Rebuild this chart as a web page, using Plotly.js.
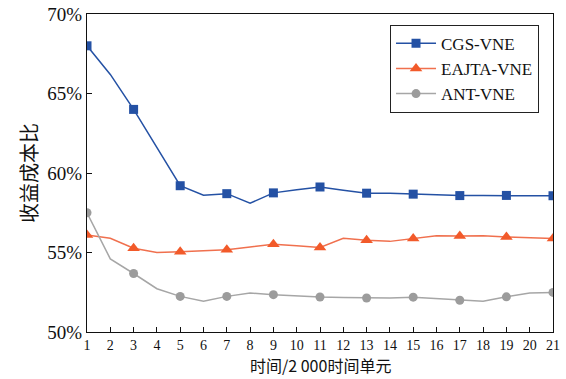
<!DOCTYPE html>
<html>
<head>
<meta charset="utf-8">
<script src="https://cdn.plot.ly/plotly-3.0.1.min.js"></script>
<style>html,body{margin:0;padding:0;background:#fff;}#chart{width:566px;height:379px;}</style>
</head>
<body>
<div id="chart"></div>
<script>
const timeSteps = [1,2,3,4,5,6,7,8,9,10,11,12,13,14,15,16,17,18,19,20,21];
const seriesNames = ['CGS-VNE', 'EAJTA-VNE', 'ANT-VNE'];
const cgsVne = [68.0, 66.2, 64.0, 61.6, 59.2, 58.6, 58.7, 58.1, 58.75, 58.95, 59.12, 58.92, 58.73, 58.73, 58.67, 58.63, 58.58, 58.58, 58.59, 58.58, 58.57];
const eajtaVne = [56.1, 55.9, 55.27, 55.0, 55.05, 55.1, 55.18, 55.35, 55.52, 55.42, 55.31, 55.89, 55.77, 55.7, 55.88, 56.05, 56.03, 56.05, 55.98, 55.92, 55.88];
const antVne = [57.5, 54.6, 53.68, 52.72, 52.24, 51.93, 52.24, 52.45, 52.35, 52.27, 52.2, 52.17, 52.14, 52.14, 52.19, 52.11, 52.0, 51.93, 52.21, 52.45, 52.49];
const yTickVals = [50, 55, 60, 65, 70];
const xTitle = '时间/2 000时间单元';
const yTitle = '收益成本比';

const styles = [
  {line: '#2451a4', marker: '#2451a4', symbol: 'square', size: 9},
  {line: '#f0704e', marker: '#f25a2a', symbol: 'triangle-up', size: 11},
  {line: '#a6a6a6', marker: '#9c9c9c', symbol: 'circle', size: 9}
];
const allSeries = [cgsVne, eajtaVne, antVne];

const traces = [];
allSeries.forEach((vals, k) => {
  const st = styles[k];
  traces.push({
    x: timeSteps, y: vals, type: 'scatter', mode: 'lines',
    line: {color: st.line, width: 1.5}, showlegend: false, hoverinfo: 'skip'
  });
  traces.push({
    x: timeSteps.filter((_, i) => i % 2 === 0),
    y: vals.filter((_, i) => i % 2 === 0),
    type: 'scatter', mode: 'markers',
    marker: {color: st.marker, symbol: st.symbol, size: st.size},
    showlegend: false
  });
});
allSeries.forEach((vals, k) => {
  const st = styles[k];
  traces.push({
    x: [null], y: [null], type: 'scatter', mode: 'lines+markers', name: seriesNames[k],
    line: {color: st.line, width: 1.5},
    marker: {color: st.marker, symbol: st.symbol, size: st.size}
  });
});

const layout = {
  width: 566, height: 379,
  margin: {l: 87, r: 13, t: 14, b: 47},
  paper_bgcolor: '#fff', plot_bgcolor: '#fff',
  font: {family: 'Liberation Serif, serif', color: '#111'},
  xaxis: {
    range: [1, 21], tickmode: 'array', tickvals: timeSteps, ticktext: timeSteps.map(String),
    showgrid: false, zeroline: false, showline: true, mirror: true, linecolor: '#111', linewidth: 1.2,
    ticks: 'inside', ticklen: 5, tickcolor: '#111', tickwidth: 1,
    tickfont: {family: 'Liberation Serif, serif', size: 14, color: '#111'}
  },
  yaxis: {
    range: [50, 70], tickmode: 'array', tickvals: yTickVals, ticktext: yTickVals.map(v => v + '%'),
    showgrid: false, zeroline: false, showline: true, mirror: true, linecolor: '#111', linewidth: 1.2,
    ticks: 'inside', ticklen: 5, tickcolor: '#111', tickwidth: 1,
    tickfont: {family: 'Liberation Serif, serif', size: 19, color: '#111'},
    title: {text: yTitle, font: {family: 'Noto Sans CJK SC', size: 20, color: '#111'}, standoff: 4}
  },
  annotations: [{
    text: xTitle, xref: 'paper', yref: 'paper', x: 0.5, y: -0.1440,
    xanchor: 'center', yanchor: 'bottom', showarrow: false, borderpad: 0,
    font: {family: 'Noto Sans CJK SC', size: 16, color: '#111'}
  }],
  legend: {
    x: 0.97, y: 0.966, xanchor: 'right', yanchor: 'top',
    bgcolor: '#fff', bordercolor: '#222', borderwidth: 1,
    font: {family: 'Liberation Serif, serif', size: 17, color: '#111'},
    itemwidth: 40, tracegroupgap: 0
  },
  showlegend: true
};

Plotly.newPlot('chart', traces, layout, {displayModeBar: false, staticPlot: true});
</script>
</body>
</html>
